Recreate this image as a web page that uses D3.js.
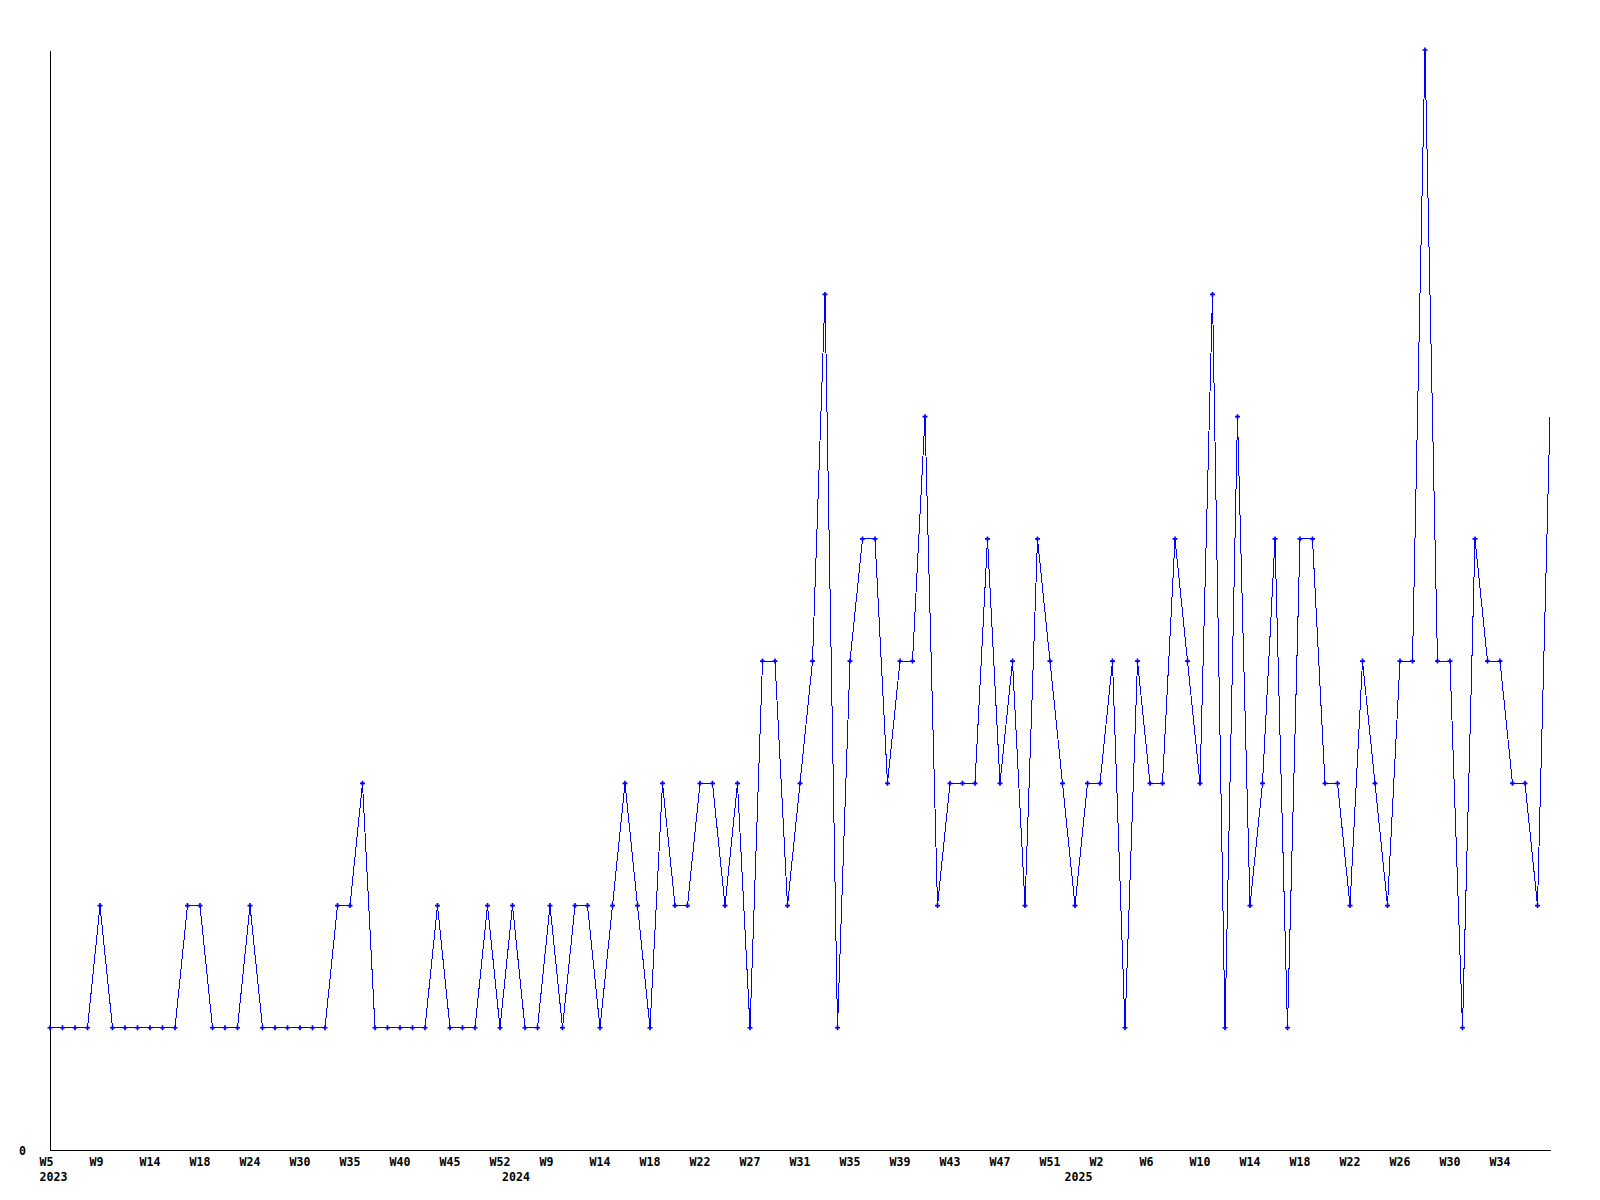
<!DOCTYPE html>
<html>
<head>
<meta charset="utf-8">
<script src="https://cdn.jsdelivr.net/npm/d3@7"></script>
<style>
  body { margin: 0; background: #fff; }
  svg text { font-family: "DejaVu Sans Mono", monospace; font-weight: bold; font-size: 11.6px; fill: #000; }
</style>
</head>
<body>
<div id="chart"></div>
<script>
// weekly counts, oldest first (2023 W5 .. 2025 W37)
const counts = [
  1, 1, 1, 1, 2, 1, 1, 1, 1, 1, 1, 2, 2, 1, 1, 1, 2, 1, 1, 1,
  1, 1, 1, 2, 2, 3, 1, 1, 1, 1, 1, 2, 1, 1, 1, 2, 1, 2, 1, 1,
  2, 1, 2, 2, 1, 2, 3, 2, 1, 3, 2, 2, 3, 3, 2, 3, 1, 4, 4, 2,
  3, 4, 7, 1, 4, 5, 5, 3, 4, 4, 6, 2, 3, 3, 3, 5, 3, 4, 2, 5,
  4, 3, 2, 3, 3, 4, 1, 4, 3, 3, 5, 4, 3, 7, 1, 6, 2, 3, 5, 1,
  5, 5, 3, 3, 2, 4, 3, 2, 4, 4, 9, 4, 4, 1, 5, 4, 4, 3, 3, 2,
  6
];

// a week label on every 4th point
const weekLabels = [
  'W5', 'W9', 'W14', 'W18', 'W24', 'W30', 'W35', 'W40', 'W45', 'W52',
  'W9', 'W14', 'W18', 'W22', 'W27', 'W31', 'W35', 'W39', 'W43', 'W47', 'W51',
  'W2', 'W6', 'W10', 'W14', 'W18', 'W22', 'W26', 'W30', 'W34'
];
const labelEvery = 4;

const years = ['2023', '2024', '2025'];
const yearStart = [0, 37, 82];   // index of the first point of each year

const width = 1600;
const height = 1200;
const margin = { top: 50, right: 50, bottom: 50, left: 50 };

const svg = d3.select('#chart')
  .append('svg')
  .attr('width', width)
  .attr('height', height);

const x = d3.scaleLinear()
  .domain([0, counts.length - 1])
  .range([margin.left, width - margin.right]);

const y = d3.scaleLinear()
  .domain([0, 9])
  .range([height - margin.bottom, margin.top]);

// labels start about a char and a half before their point
const labelShift = 10.4;

// axes
svg.append('g')
  .attr('transform', `translate(${margin.left},0)`)
  .call(d3.axisLeft(y).tickValues([0]).tickSize(0).tickSizeOuter(0).tickPadding(24))
  .call(g => g.select('.domain').attr('stroke', '#000').attr('shape-rendering', 'crispEdges'))
  .call(g => g.selectAll('text').attr('font-family', null).attr('font-size', null).attr('dy', '0.35em'));

svg.append('g')
  .attr('transform', `translate(0,${height - margin.bottom})`)
  .call(d3.axisBottom(x).tickValues([]).tickSizeOuter(0))
  .call(g => g.select('.domain').attr('stroke', '#000').attr('shape-rendering', 'crispEdges'));

// week labels
svg.append('g')
  .selectAll('text')
  .data(weekLabels)
  .join('text')
  .attr('x', (d, i) => x(i * labelEvery) - labelShift)
  .attr('y', height - margin.bottom + 16)
  .text(d => d);

// year labels
svg.append('g')
  .selectAll('text')
  .data(years)
  .join('text')
  .attr('x', (d, i) => x(yearStart[i]) - labelShift)
  .attr('y', height - margin.bottom + 31)
  .text(d => d);

// line
const line = d3.line()
  .x((d, i) => x(i))
  .y(d => y(d));

svg.append('path')
  .datum(counts)
  .attr('fill', 'none')
  .attr('stroke', '#0000ff')
  .attr('stroke-width', 1)
  .attr('shape-rendering', 'crispEdges')
  .attr('d', line);

// markers (the last, still open week has none)
svg.append('g')
  .selectAll('path')
  .data(counts.slice(0, -1))
  .join('path')
  .attr('transform', (d, i) => `translate(${x(i)},${y(d)})`)
  .attr('d', d3.symbol(d3.symbolCross).size(14))
  .attr('fill', '#0000ff');
</script>
</body>
</html>
